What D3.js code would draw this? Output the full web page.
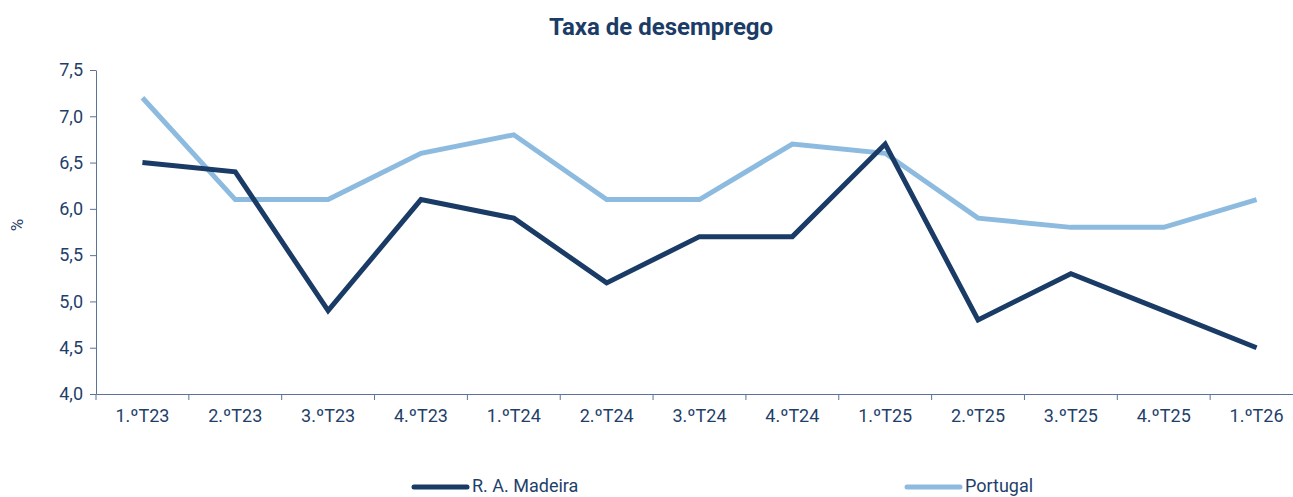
<!DOCTYPE html>
<html>
<head>
<meta charset="utf-8">
<script src="https://cdnjs.cloudflare.com/ajax/libs/d3/7.8.5/d3.min.js"></script>
<style>
    body { margin: 0; background: #fff; }
    svg text { font-family: Roboto, 'Noto Sans', sans-serif; fill: #1f3f6a; }
    .axis path, .axis line { stroke: #5a7396; }
</style>
</head>
<body>
<div id="chart"></div>
<script>
var quarters = ['1.ºT23', '2.ºT23', '3.ºT23', '4.ºT23', '1.ºT24', '2.ºT24', '3.ºT24',
                '4.ºT24', '1.ºT25', '2.ºT25', '3.ºT25', '4.ºT25', '1.ºT26'];
var madeira = [6.5, 6.4, 4.9, 6.1, 5.9, 5.2, 5.7, 5.7, 6.7, 4.8, 5.3, 4.9, 4.5];
var portugal = [7.2, 6.1, 6.1, 6.6, 6.8, 6.1, 6.1, 6.7, 6.6, 5.9, 5.8, 5.8, 6.1];
var yTicks = [4.0, 4.5, 5.0, 5.5, 6.0, 6.5, 7.0, 7.5];

var WIDTH = 1293, HEIGHT = 497;
var LEFT = 96, RIGHT = 1303, TOP = 70, BOTTOM = 394;

var svg = d3.select('#chart').append('svg')
    .attr('width', WIDTH)
    .attr('height', HEIGHT);

var x = d3.scaleBand().domain(quarters).range([LEFT, RIGHT]);
var y = d3.scaleLinear().domain([4, 7.5]).range([BOTTOM, TOP]);
var fmt = function(d) { return d3.format('.1f')(d).replace('.', ','); };

svg.append('text')
    .attr('x', 661).attr('y', 35)
    .attr('text-anchor', 'middle')
    .style('font-size', '24px').style('font-weight', 700)
    .style('fill', '#1b3c66')
    .text('Taxa de desemprego');

// y axis
var yAxis = svg.append('g').attr('class', 'axis')
    .attr('transform', 'translate(' + LEFT + ',0)')
    .call(d3.axisLeft(y).tickValues(yTicks).tickFormat(fmt).tickSize(6).tickPadding(7).tickSizeOuter(0));
yAxis.selectAll('text').style('font-size', '18px');

// x axis - ticks at band boundaries
var xAxis = svg.append('g').attr('class', 'axis')
    .attr('transform', 'translate(0,' + BOTTOM + ')')
    .call(d3.axisBottom(x).tickSize(0).tickPadding(15).tickSizeOuter(0));
xAxis.selectAll('text').style('font-size', '18px');
xAxis.selectAll('.bound')
    .data(quarters.concat(['end']))
    .enter().append('line')
    .attr('x1', function(d, i) { return LEFT + x.step() * i; })
    .attr('x2', function(d, i) { return LEFT + x.step() * i; })
    .attr('y1', 0).attr('y2', 6)
    .attr('stroke', '#5a7396');

svg.append('text')
    .attr('transform', 'translate(23,225) rotate(-90)')
    .attr('text-anchor', 'middle')
    .style('font-size', '17px')
    .text('%');

var line = d3.line()
    .x(function(d, i) { return x(quarters[i]) + x.bandwidth() / 2; })
    .y(function(d) { return y(d); });

svg.append('path').datum(portugal)
    .attr('d', line).attr('fill', 'none')
    .attr('stroke', '#8dbbdf').attr('stroke-width', 5)
    .attr('stroke-linejoin', 'miter');

svg.append('path').datum(madeira)
    .attr('d', line).attr('fill', 'none')
    .attr('stroke', '#193b65').attr('stroke-width', 5)
    .attr('stroke-linejoin', 'miter');

// legend
var legend = [
    { name: 'R. A. Madeira', color: '#193b65', x: 414 },
    { name: 'Portugal', color: '#8dbbdf', x: 907 }
];
var lg = svg.selectAll('.legend').data(legend).enter().append('g')
    .attr('transform', function(d) { return 'translate(' + d.x + ',487)'; });
lg.append('line')
    .attr('x1', 0).attr('x2', 53).attr('y1', 0).attr('y2', 0)
    .attr('stroke', function(d) { return d.color; })
    .attr('stroke-width', 5).attr('stroke-linecap', 'round');
lg.append('text')
    .attr('x', 58).attr('y', 5)
    .style('font-size', '18px')
    .text(function(d) { return d.name; });
</script>
</body>
</html>
